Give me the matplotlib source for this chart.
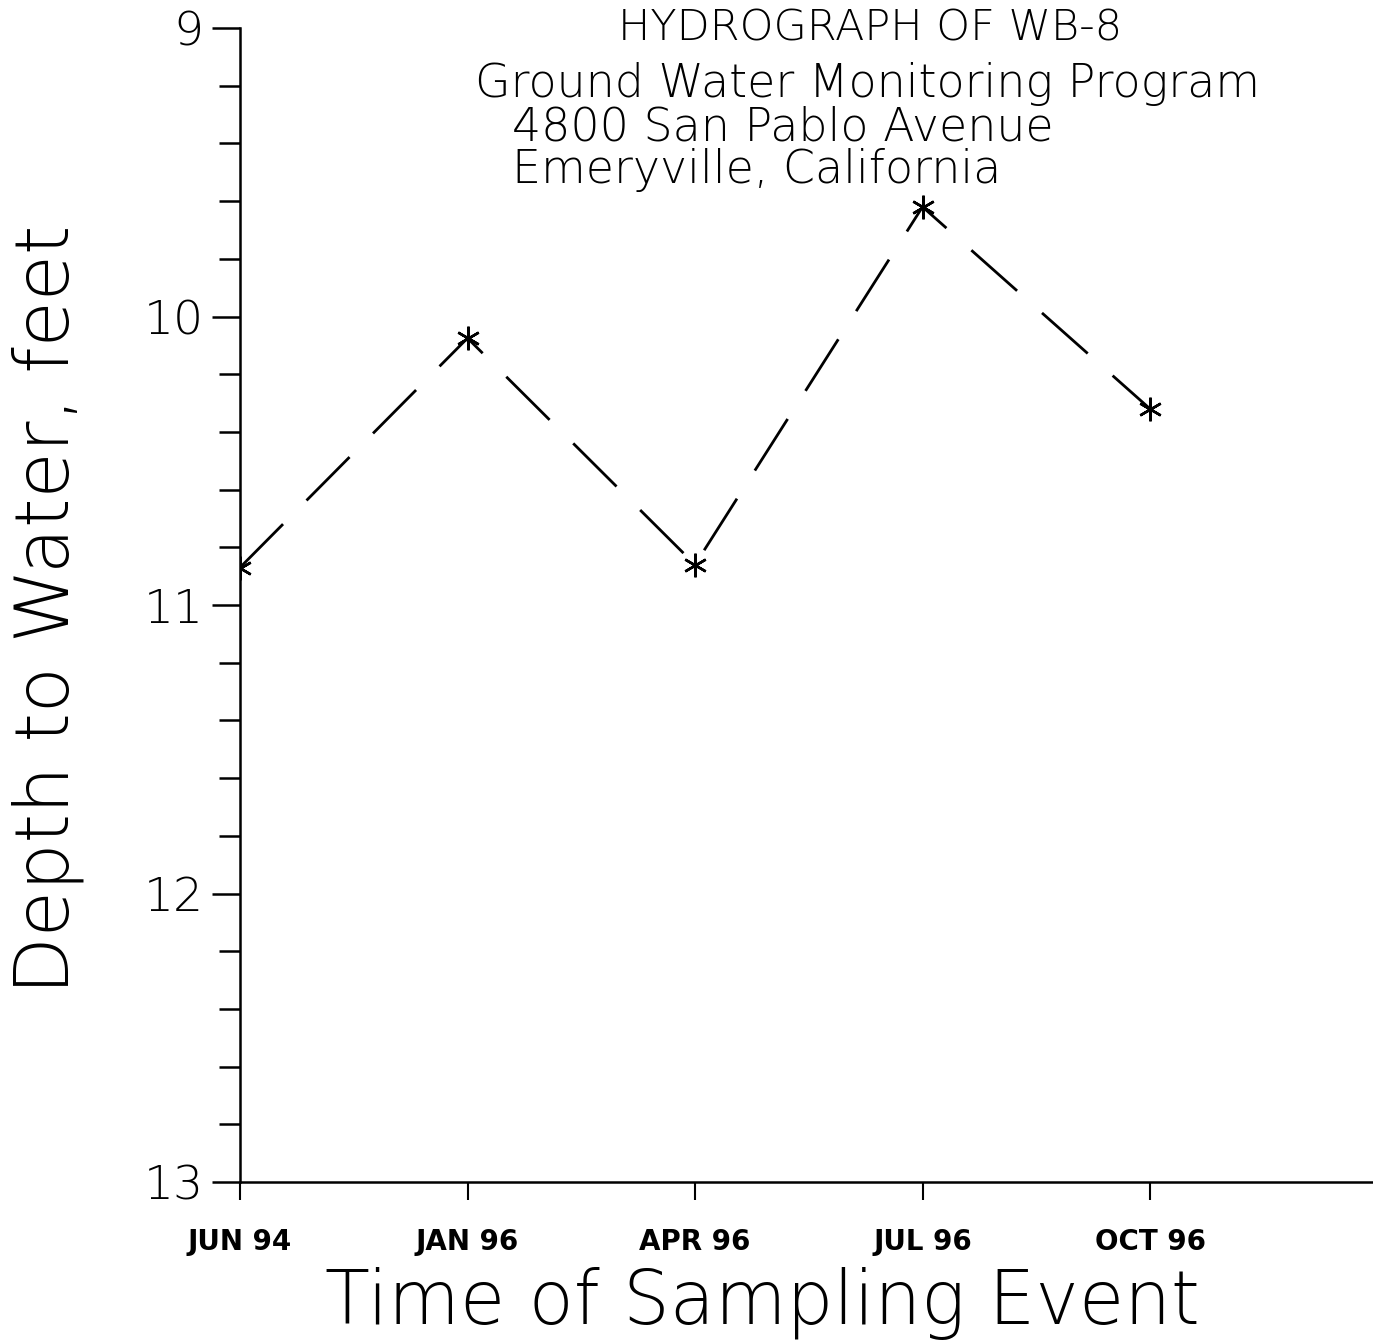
import matplotlib
matplotlib.use("Agg")
import matplotlib.pyplot as plt
import numpy as np
from matplotlib.ticker import MultipleLocator

# sampling events and depth to water (feet)
events = ["JUN 94", "JAN 96", "APR 96", "JUL 96", "OCT 96"]
depth = [10.87, 10.075, 10.86, 9.62, 10.32]

title_lines = ["HYDROGRAPH OF WB-8",
               "Ground Water Monitoring Program",
               "4800 San Pablo Avenue",
               "Emeryville, California"]

fig = plt.figure(figsize=(13.73, 13.40), dpi=100)
ax = fig.add_axes([0.1748, 0.1179, 0.8252, 0.8612])

x = np.arange(len(events))
ax.plot(x, depth, color="black", lw=2, linestyle=(0, (22, 12)),
        marker=(6, 2, 0), markersize=17, markeredgewidth=1.8,
        markerfacecolor="black", markeredgecolor="black")

ax.set_xlim(0, 4.98)
ax.set_ylim(13, 9)

ax.spines["top"].set_visible(False)
ax.spines["right"].set_visible(False)
for s in ["left", "bottom"]:
    ax.spines[s].set_linewidth(1.8)

ax.set_xticks(x)
ax.set_xticklabels(events, fontsize=20, fontweight="bold")
ax.tick_params(axis="x", direction="out", length=13, width=1.5, pad=20)

ax.yaxis.set_minor_locator(MultipleLocator(0.2))
ax.set_yticks([9, 10, 11, 12, 13])
ax.set_yticklabels(["9", "10", "11", "12", "13"], fontsize=34,
                   fontweight="light")
ax.tick_params(axis="y", which="major", direction="out", length=20, width=1.8, pad=6)
ax.tick_params(axis="y", which="minor", direction="out", length=15, width=1.8)

ax.set_xlabel("Time of Sampling Event", fontsize=53, fontweight="light")
ax.xaxis.set_label_coords(0.461, -0.074)
ax.set_ylabel("Depth to Water, feet", fontsize=54, fontweight="light")
ax.yaxis.set_label_coords(-0.138, 0.496)

fig.text(0.6336, 0.9701, title_lines[0], ha="center", va="baseline",
         fontsize=31, fontweight="light")
fig.text(0.632, 0.9276, title_lines[1], ha="center", va="baseline",
         fontsize=33, fontweight="light")
fig.text(0.373, 0.8955, title_lines[2], ha="left", va="baseline",
         fontsize=33, fontweight="light")
fig.text(0.373, 0.8634, title_lines[3], ha="left", va="baseline",
         fontsize=33, fontweight="light")

fig.savefig("out.png", dpi=100, facecolor="white")
